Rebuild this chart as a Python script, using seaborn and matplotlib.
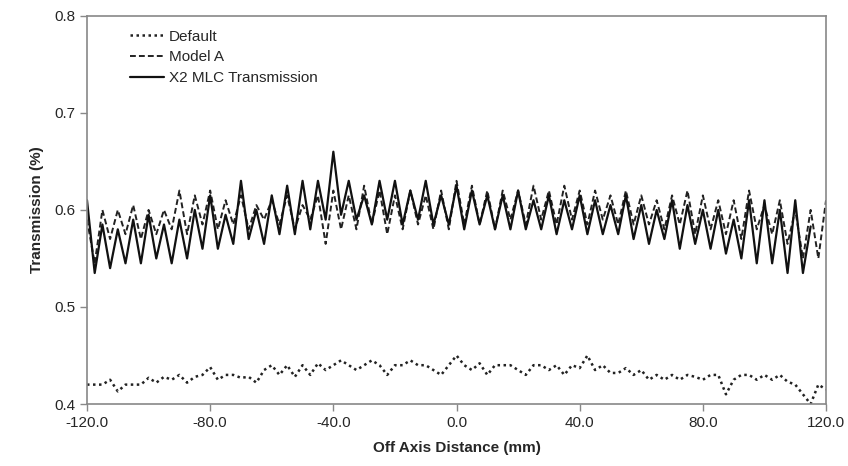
import numpy as np
import pandas as pd
import matplotlib
matplotlib.use("Agg")
import matplotlib.pyplot as plt
import seaborn as sns

# Off axis distance (mm), sampled every 2.5 mm
x_default = np.arange(-120, 120.1, 2.5)
default_vals = [
    .420, .420, .420, .425, .413, .420, .420, .420, .427, .422,
    .428, .425, .430, .422, .428, .430, .438, .425, .430, .430,
    .427, .428, .422, .435, .440, .430, .440, .428, .440, .430,
    .442, .435, .440, .445, .440, .435, .440, .445, .440, .430,
    .440, .440, .445, .440, .440, .435, .430, .440, .450, .440,
    .435, .442, .430, .440, .440, .440, .435, .430, .440, .440,
    .435, .440, .430, .440, .437, .450, .435, .440, .432, .432,
    .437, .430, .435, .425, .430, .425, .430, .425, .430, .428,
    .425, .430, .430, .410, .425, .430, .430, .425, .430, .425,
    .430, .423, .420, .410, .400, .420, .415,
]

# Model A: peaks at multiples of 5 mm, troughs between
x_model = np.arange(-120, 120.1, 2.5)
model_peaks = [
    .590, .600, .600, .605, .600, .600, .620, .615, .620, .610,
    .615, .605, .610, .615, .605, .615, .620, .615, .625, .620,
    .615, .620, .615, .620, .630, .625, .620, .620, .620, .625,
    .620, .625, .620, .620, .615, .620, .615, .610, .615, .620,
    .615, .610, .610, .620, .605, .610, .600, .600, .610,
]
model_troughs = [
    .545, .570, .575, .570, .575, .580, .575, .585, .580, .585,
    .580, .590, .585, .580, .590, .565, .580, .580, .585, .575,
    .580, .585, .580, .580, .585, .585, .580, .590, .585, .590,
    .585, .590, .585, .590, .585, .585, .585, .580, .585, .575,
    .580, .575, .570, .580, .575, .565, .550, .550,
]

# X2 MLC transmission, measured up to 115 mm
x_meas = np.arange(-120, 115.1, 2.5)
meas_peaks = [
    .610, .585, .580, .590, .595, .585, .590, .600, .615, .595,
    .630, .600, .615, .625, .630, .630, .660, .630, .615, .630,
    .630, .620, .630, .615, .625, .620, .615, .615, .620, .610,
    .615, .610, .615, .610, .605, .615, .605, .600, .610, .605,
    .600, .600, .590, .610, .610, .600, .610, .583,
]
meas_troughs = [
    .535, .540, .545, .545, .550, .545, .550, .560, .560, .565,
    .570, .565, .575, .575, .580, .590, .595, .590, .585, .590,
    .585, .590, .585, .585, .580, .585, .580, .580, .580, .580,
    .575, .580, .575, .575, .575, .570, .565, .570, .560, .565,
    .560, .555, .550, .545, .545, .535, .535,
]


def interleave(peaks, troughs):
    out = []
    for i, p in enumerate(peaks):
        out.append(p)
        if i < len(troughs):
            out.append(troughs[i])
    return out


model_vals = interleave(model_peaks, model_troughs)
meas_vals = interleave(meas_peaks, meas_troughs)

df_default = pd.DataFrame({"x": x_default, "y": default_vals})
df_model = pd.DataFrame({"x": x_model, "y": model_vals})
df_meas = pd.DataFrame({"x": x_meas, "y": meas_vals})

sns.set_style("white")
plt.rcParams["font.family"] = ["Liberation Sans", "DejaVu Sans"]

fig = plt.figure(figsize=(8.48, 4.66), dpi=100)
ax = fig.add_axes([0.1026, 0.133, 0.8715, 0.833])

sns.lineplot(data=df_default, x="x", y="y", ax=ax, color="#222222",
             linestyle=(0, (1, 1.4)), linewidth=1.8, label="Default")
sns.lineplot(data=df_model, x="x", y="y", ax=ax, color="#222222",
             linestyle=(0, (3, 1.6)), linewidth=1.4, label="Model A",
             dash_joinstyle="round")
sns.lineplot(data=df_meas, x="x", y="y", ax=ax, color="#111111",
             linestyle="-", linewidth=1.6, label="X2 MLC Transmission",
             solid_joinstyle="round")

ax.set_xlim(-120, 120)
ax.set_ylim(0.4, 0.8)
ax.set_xticks(np.arange(-120, 121, 40))
ax.set_xticklabels([f"{v:.1f}" for v in np.arange(-120, 121, 40)])
ax.set_yticks([0.4, 0.5, 0.6, 0.7, 0.8])
ax.set_yticklabels(["0.4", "0.5", "0.6", "0.7", "0.8"])
ax.tick_params(axis="both", direction="out", length=5, width=1,
               color="#888888", labelsize=11, bottom=True, left=True)

for s in ax.spines.values():
    s.set_color("#888888")
    s.set_linewidth(1.2)

ax.set_xlabel("Off Axis Distance (mm)", fontsize=11, fontweight="bold", labelpad=8)
ax.set_ylabel("Transmission (%)", fontsize=11, fontweight="bold", labelpad=7)

ax.legend(loc="upper left", bbox_to_anchor=(0.04, 1.0), frameon=False,
          fontsize=11, handlelength=2.2, handletextpad=0.3, labelspacing=0.45)

fig.savefig("out.png", dpi=100)
